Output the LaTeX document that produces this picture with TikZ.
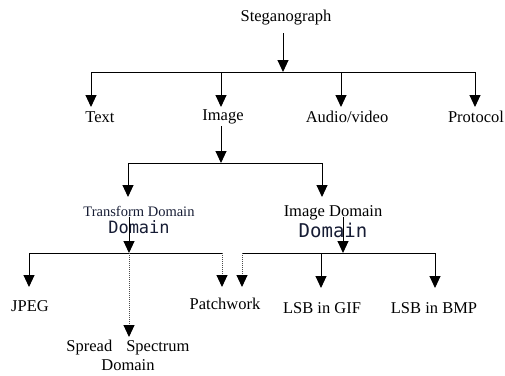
\documentclass[tikz,border=0pt]{standalone}
\usepackage{fontspec}
\setmainfont{Liberation Serif}
\newfontfamily\monofont{DejaVu Sans Mono}
\usetikzlibrary{arrows.meta}
\definecolor{inkblue}{RGB}{22,28,52}
\tikzset{
  big/.style={font=\fontsize{16.5bp}{19bp}\selectfont},
  lbl/.style={big, anchor=north, inner xsep=0pt, inner ysep=4bp, text height=11bp, text depth=3bp},
  arr/.style={-{Triangle[length=12bp,width=11bp,color=black]}},
  dots/.style={densely dotted, gray!60!black},
  mono/.style={text=inkblue, inner sep=0pt},
}
\begin{document}
\begin{tikzpicture}[x=1bp, y=-1bp, line width=1bp]
            \useasboundingbox (0,0) rectangle (505,375);
            % labels
            \node [big, inner ysep=7bp] (stego) at (286,18) {Steganograph};
            \node [lbl] (text) at (100,107) {Text};
            \node [lbl, inner ysep=2bp] (image) at (223,107) {Image};
            \node [lbl] (audio) at (347,107) {Audio/video};
            \node [lbl] (protocol) at (476,107) {Protocol};
            \node [lbl, inner ysep=8bp, text=inkblue, font=\fontsize{14.5bp}{17bp}\selectfont] (transform) at (139,197) {Transform Domain};
            \node [lbl, inner ysep=8bp] (imgdom) at (333,197) {Image Domain};
            \node [mono, font=\monofont\fontsize{17bp}{20bp}\selectfont] (dom1) at (139,227) {Domain};
            \node [mono, font=\monofont\fontsize{19bp}{22bp}\selectfont] (dom2) at (333,230) {Domain};
            \node [lbl, inner ysep=13bp] (jpeg) at (30,287) {JPEG};
            \node [lbl, inner ysep=11bp] (patch) at (225,287) {Patchwork};
            \node [lbl, inner ysep=14bp] (gif) at (322,288) {LSB in GIF};
            \node [lbl, inner ysep=14bp] (bmp) at (434,288) {LSB in BMP};
            \node [big, anchor=north, align=center, inner ysep=3bp] (spread) at (128,337) {Spread\hspace{14bp}Spectrum\\Domain};
            % bus points
            \coordinate (s0) at (283,72);
            \coordinate (s1) at (91,72);
            \coordinate (s2) at (221,72);
            \coordinate (s3) at (341,72);
            \coordinate (s4) at (475,72);
            \coordinate (m0) at (221,163);
            \coordinate (m1) at (128,163);
            \coordinate (m2) at (322,163);
            \coordinate (p1) at (29,253);
            \coordinate (p2) at (129,253);
            \coordinate (p3) at (222,253);
            \coordinate (q0) at (343,253);
            \coordinate (q1) at (242,253);
            \coordinate (q2) at (321,253);
            \coordinate (q3) at (435,253);
            % connectors
            \path [draw, arr] (s0 |- stego.south) -- (s0);
            \path [draw] (s1) -- (s4);
            \path [draw, arr] (s1) -- (s1 |- text.north);
            \path [draw, arr] (s2) -- (s2 |- image.north);
            \path [draw, arr] (s3) -- (s3 |- audio.north);
            \path [draw, arr] (s4) -- (s4 |- protocol.north);
            \path [draw, arr] (m0 |- image.south) -- (m0);
            \path [draw] (m1) -- (m2);
            \path [draw, arr] (m1) -- (m1 |- transform.north);
            \path [draw, arr] (m2) -- (m2 |- imgdom.north);
            \path [draw, arr] (p2 |- transform.base) -- (p2);
            \path [draw] (p1) -- (p3);
            \path [draw, arr] (p1) -- (p1 |- jpeg.north);
            \path [draw, dots, arr] (p2) -- (p2 |- spread.north);
            \path [draw, dots, arr] (p3) -- (p3 |- patch.north);
            \path [draw, arr] (q0 |- imgdom.base) -- (q0);
            \path [draw] (q1) -- (q3);
            \path [draw, dots, arr] (q1) -- (q1 |- patch.north);
            \path [draw, arr] (q2) -- (q2 |- gif.north);
            \path [draw, arr] (q3) -- (q3 |- bmp.north);
        \end{tikzpicture}
\end{document}
